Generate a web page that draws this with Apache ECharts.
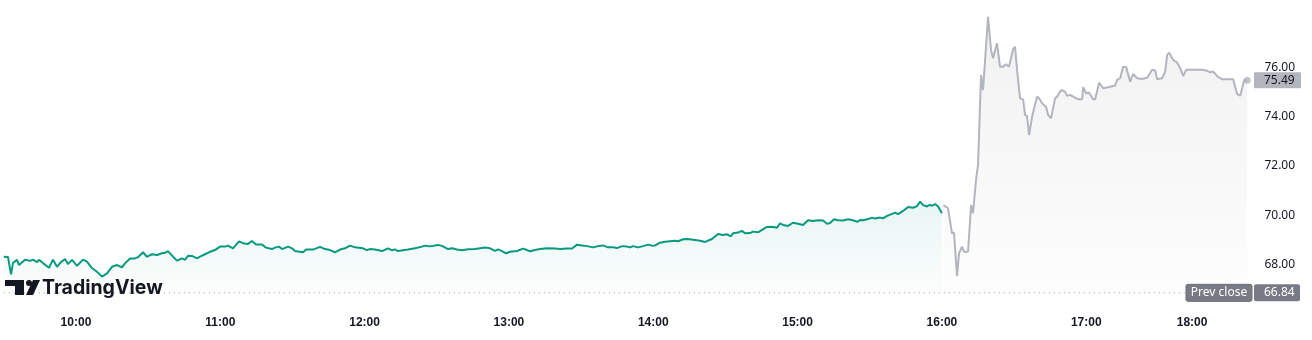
<!DOCTYPE html>
<html>
<head>
<meta charset="utf-8">
<script src="https://cdn.jsdelivr.net/npm/echarts@6.0.0/dist/echarts.min.js"></script>
<style>
html,body{margin:0;padding:0;background:#ffffff;}
#chart{width:1312px;height:340px;}
</style>
</head>
<body>
<div id="chart"></div>
<script>
// Bar index (2-minute bars, as laid out on the chart's time scale)
const regularBars = [
0,0.87,1.50,1.91,2.74,3.16,4.41,5.45,6.07,6.90,
7.32,8.15,9.40,10.23,11.06,11.68,12.72,13.34,14.18,15.22,
16.46,17.29,18.33,19.37,20.41,21.45,22.49,23.53,24.57,25.19,
26.23,27.27,27.90,28.93,29.77,30.81,31.85,32.88,33.51,34.13,
35.17,36.00,37.04,37.66,38.29,39.12,40.16,40.78,41.82,42.86,
43.90,44.94,45.98,46.60,47.64,48.89,49.72,50.76,51.59,52.42,
53.67,54.50,55.75,56.37,57.20,57.83,59.08,59.91,60.53,62.19,
62.82,64.27,65.73,66.77,67.81,68.85,69.89,70.92,71.96,73.00,
74.66,75.49,76.12,77.16,78.61,79.86,80.69,81.31,81.94,82.98,
84.02,85.47,86.93,87.55,88.59,90.25,91.09,92.33,93.16,94.20,
95.24,96.49,97.95,98.36,100.03,101.07,102.10,102.73,103.56,104.40,
105.23,106.68,107.93,108.76,109.38,110.42,111.46,112.92,114.58,115.62,
117.08,118.12,119.16,120.20,121.24,122.49,123.53,124.57,125.60,126.64,
127.47,128.51,129.55,130.18,130.80,131.84,132.88,133.92,134.75,135.37,
136.41,137.45,138.49,139.53,140.15,141.19,142.23,143.27,144.73,145.77,
147.20,148.45,149.49,150.32,151.15,151.57,152.61,153.44,154.07,155.11,
155.73,156.77,157.60,158.64,159.68,160.72,161.35,161.97,163.01,164.05,
165.09,166.13,167.17,168.21,169.25,170.29,171.12,171.75,172.58,173.41,
174.45,175.49,176.33,177.37,177.99,178.61,179.65,180.49,181.11,182.15,
182.77,183.60,184.64,185.27,185.89,186.93,187.97,189.01,189.84,190.47,
191.09,191.92,192.34,192.96,193.59,194.21,195
];
const regularPrices = [
68.31,68.30,67.59,68.05,68.18,67.97,68.19,68.14,68.19,68.09,
68.18,68.05,67.86,68.19,67.90,68.05,68.22,68.01,68.18,67.94,
68.19,68.11,67.85,67.70,67.50,67.63,67.90,67.97,67.88,68.04,
68.24,68.24,68.29,68.49,68.31,68.41,68.38,68.45,68.47,68.54,
68.31,68.15,68.24,68.18,68.35,68.34,68.24,68.31,68.41,68.51,
68.58,68.72,68.72,68.76,68.65,68.93,68.86,68.83,68.95,68.81,
68.81,68.68,68.62,68.68,68.72,68.62,68.72,68.65,68.54,68.49,
68.60,68.60,68.71,68.62,68.58,68.49,68.60,68.65,68.76,68.69,
68.65,68.58,68.62,68.60,68.54,68.65,68.57,68.61,68.54,68.57,
68.60,68.65,68.72,68.76,68.73,68.79,68.75,68.62,68.65,68.60,
68.57,68.61,68.62,68.64,68.68,68.65,68.55,68.61,68.54,68.45,
68.51,68.54,68.64,68.58,68.53,68.58,68.62,68.65,68.64,68.62,
68.64,68.64,68.80,68.77,68.74,68.69,68.74,68.77,68.69,68.69,
68.66,68.74,68.72,68.69,68.74,68.69,68.74,68.80,68.76,68.77,
68.88,68.92,68.94,68.96,68.94,69.02,69.03,69.00,68.96,68.91,
69.03,69.23,69.19,69.22,69.14,69.26,69.29,69.36,69.26,69.27,
69.33,69.30,69.40,69.52,69.53,69.49,69.67,69.60,69.56,69.69,
69.65,69.60,69.79,69.76,69.79,69.78,69.65,69.68,69.83,69.79,
69.78,69.83,69.80,69.73,69.80,69.79,69.84,69.90,69.86,69.90,
69.87,69.97,70.05,70.10,70.04,70.17,70.33,70.30,70.37,70.55,
70.41,70.35,70.41,70.39,70.45,70.35,70.08
];
const postBars = [
195.30,196.27,197.10,197.52,198.14,198.56,199.18,199.60,200.43,201.06,
201.47,202.09,202.51,203.13,203.55,204.59,205.21,205.63,206.46,207.08,
207.71,208.33,208.96,209.79,210.20,210.62,211.24,211.87,212.28,212.70,
213.12,213.74,214.78,215.20,215.82,216.65,217.07,217.69,218.52,218.94,
219.77,220.60,221.02,221.64,222.68,223.31,224.14,224.35,224.97,225.60,
226.43,226.85,227.68,228.51,229.55,231.01,231.42,232.05,232.67,233.30,
234.13,234.75,235.58,236.62,237.66,237.87,238.70,239.33,239.74,240.78,
241.40,241.82,242.24,243.07,243.90,244.52,245.15,245.77,247.23,249.10,
249.51,250.14,250.76,251.39,252.43,253.26,255.55,255.97,256.38,257.01,
257.84,258.46
];
const postPrices = [
70.41,70.28,69.26,69.29,67.52,68.45,68.72,68.51,68.51,70.41,
70.08,71.43,72.04,75.70,75.09,78.07,76.72,76.38,76.99,76.04,
76.04,76.14,76.04,76.75,76.85,75.91,74.75,74.71,74.08,74.03,
73.26,74.01,74.82,74.75,74.55,74.41,74.08,73.94,74.75,74.82,
75.09,75.02,74.85,74.89,74.78,74.71,74.71,75.20,74.96,74.98,
74.71,74.71,75.39,75.16,75.20,75.27,75.50,75.57,76.04,76.02,
75.43,75.74,75.57,75.54,75.59,75.54,75.91,75.88,75.53,75.57,
75.84,76.52,76.61,76.31,76.20,75.98,75.66,75.91,75.91,75.91,
75.84,75.87,75.81,75.84,75.61,75.53,75.53,75.20,74.92,74.86,
75.50,75.49
];
const tickBars = [15, 45, 75, 105, 135, 165, 195, 225, 247];
const tickLabels = ['10:00','11:00','12:00','13:00','14:00','15:00','16:00','17:00','18:00'];
const prevClose = 66.84;
const prevCloseLabel = 'Prev close';
const brandText = 'TradingView';

const zip = (xs, ys) => xs.map((x, i) => [x, ys[i]]);
const lastBar = postBars[postBars.length - 1];
const lastPrice = postPrices[postPrices.length - 1];

const chart = echarts.init(document.getElementById('chart'), null, {renderer: 'canvas'});
const option = {
  animation: false,
  backgroundColor: '#ffffff',
  grid: {left: 3.8, right: 64.6, top: 0, bottom: 26.5},
  xAxis: {
    type: 'value', min: 0, max: 258.5,
    axisLine: {show: false}, axisTick: {show: false}, splitLine: {show: false},
    axisLabel: {
      customValues: tickBars,
      formatter: v => { const i = tickBars.indexOf(v); return i >= 0 ? tickLabels[i] : ''; },
      fontFamily: 'Liberation Sans', fontWeight: 'bold', fontSize: 12, color: '#131722', margin: 3
    }
  },
  yAxis: {
    type: 'value', position: 'right', min: 66, max: 78.75, interval: 2,
    axisLine: {show: false}, axisTick: {show: false}, splitLine: {show: false},
    axisLabel: {
      margin: 17, showMaxLabel: false, showMinLabel: false,
      formatter: v => (v >= 68 && v <= 76) ? v.toFixed(2) : '',
      fontFamily: 'Noto Sans', fontSize: 12, color: '#131722'
    }
  },
  series: [
    {
      type: 'line', data: zip(regularBars, regularPrices), showSymbol: false, symbol: 'none',
      lineStyle: {color: '#089981', width: 2}, z: 3,
      areaStyle: {
        origin: prevClose,
        color: new echarts.graphic.LinearGradient(0, 0, 0, 1, [
          {offset: 0, color: 'rgba(8,153,129,0.13)'},
          {offset: 1, color: 'rgba(8,153,129,0.02)'}
        ])
      }
    },
    {
      type: 'line', data: zip(postBars, postPrices), showSymbol: false, symbol: 'none',
      lineStyle: {color: '#b2b5be', width: 2}, z: 3,
      areaStyle: {
        origin: prevClose,
        color: new echarts.graphic.LinearGradient(0, 0, 0, 1, [
          {offset: 0, color: 'rgba(120,123,134,0.15)'},
          {offset: 1, color: 'rgba(120,123,134,0.02)'}
        ])
      }
    },
    {
      type: 'scatter', data: [[lastBar, lastPrice]], symbolSize: 7,
      itemStyle: {color: '#b2b5be'}, z: 4
    }
  ]
};
chart.setOption(option);

const yPrev = chart.convertToPixel({yAxisIndex: 0}, prevClose);
const yLast = chart.convertToPixel({yAxisIndex: 0}, lastPrice);
const ink = '#131722';
chart.setOption({
  graphic: [
    {type: 'line', z: 1, shape: {x1: 3.8, y1: yPrev, x2: 1186, y2: yPrev},
     style: {stroke: '#9598a1', lineWidth: 1, lineDash: [1, 4]}},
    {type: 'rect', z: 10, shape: {x: 1186, y: yPrev - 8.5, width: 66, height: 17, r: 2},
     style: {fill: '#787b86', stroke: '#6a6d78', lineWidth: 1}},
    {type: 'text', z: 11, x: 1219, y: yPrev,
     style: {text: prevCloseLabel, fill: '#ffffff', font: '12px "Noto Sans"', align: 'center', verticalAlign: 'middle'}},
    {type: 'rect', z: 10, shape: {x: 1254, y: yPrev - 8.5, width: 46, height: 17, r: 2},
     style: {fill: '#787b86'}},
    {type: 'text', z: 11, x: 1264, y: yPrev,
     style: {text: prevClose.toFixed(2), fill: '#ffffff', font: '12px "Noto Sans"', align: 'left', verticalAlign: 'middle'}},
    {type: 'rect', z: 10, shape: {x: 1254, y: yLast - 8, width: 47, height: 16, r: 1},
     style: {fill: '#b2b5be'}},
    {type: 'text', z: 11, x: 1264, y: yLast,
     style: {text: lastPrice.toFixed(2), fill: ink, font: '12px "Noto Sans"', align: 'left', verticalAlign: 'middle'}},
    // TradingView logo mark
    {type: 'rect', z: 12, shape: {x: 5, y: 280, width: 19, height: 6}, style: {fill: ink}},
    {type: 'rect', z: 12, shape: {x: 15, y: 280, width: 9, height: 15}, style: {fill: ink}},
    {type: 'circle', z: 12, shape: {cx: 29, cy: 283, r: 3}, style: {fill: ink}},
    {type: 'polygon', z: 12, shape: {points: [[33, 280], [40, 280], [33, 295], [26, 295]]}, style: {fill: ink}},
    {type: 'text', z: 12, x: 42, y: 288,
     style: {text: brandText, fill: ink, font: '700 19.5px Inter', align: 'left', verticalAlign: 'middle'}}
  ]
});
</script>
</body>
</html>
